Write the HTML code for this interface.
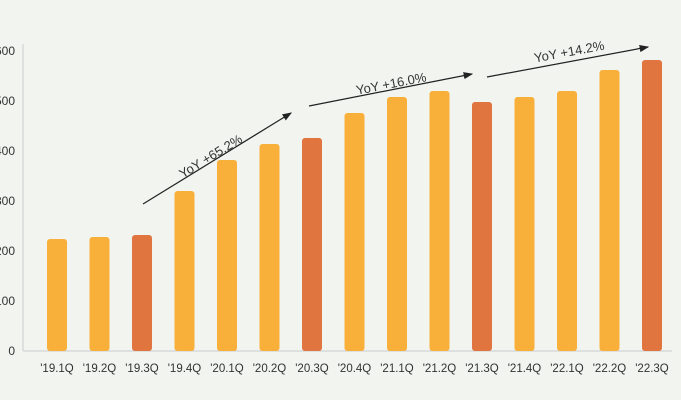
<!DOCTYPE html>
<html><head><meta charset="utf-8"><style>
html,body{margin:0;padding:0;background:#f2f4f0;}
svg{display:block;font-family:"Liberation Sans",sans-serif;}
</style></head><body>
<svg id="chart" width="681" height="400">
<defs><marker id="ah" markerWidth="8" markerHeight="8" refX="7" refY="4" orient="auto"><path d="M0,1 L8,4 L0,7 z" fill="#222"/></marker></defs>
<g id="yaxis"></g>
<g id="bars"></g>
<g id="xlabels"></g>
<g id="annot"></g>
</svg>
<script>
const categories=["'19.1Q","'19.2Q","'19.3Q","'19.4Q","'20.1Q","'20.2Q","'20.3Q","'20.4Q","'21.1Q","'21.2Q","'21.3Q","'21.4Q","'22.1Q","'22.2Q","'22.3Q"];
const values=[224,228,232,320,382,414,426,476,508,520,498,508,520,562,582];
const highlight=[false,false,true,false,false,false,true,false,false,false,true,false,false,false,true];
const yTicks=[0,100,200,300,400,500,600];
const ns="http://www.w3.org/2000/svg";
const y0=351,yScale=0.5,x0=57,step=42.5,bw=20;
const y=v=>y0-v*yScale, x=i=>x0+i*step;
function mk(t,a,p){const e=document.createElementNS(ns,t);for(const k in a)e.setAttribute(k,a[k]);p.appendChild(e);return e;}
const ya=document.getElementById('yaxis');
const al=mk('line',{x1:23,y1:44,x2:23,y2:351,stroke:'#c9cdd0','stroke-width':1},ya);

const bl=mk('line',{x1:23,y1:351,x2:672,y2:351,stroke:'#c9cdd0','stroke-width':1},ya);

yTicks.forEach(t=>{const e=mk('text',{x:15,y:y(t)+4,'text-anchor':'end','font-size':12,fill:'#333'},ya);e.textContent=t;
});
const bg=document.getElementById('bars'),xg=document.getElementById('xlabels');
values.forEach((v,i)=>{const r=mk('rect',{x:x(i)-bw/2,y:y(v),width:bw,height:y0-y(v),rx:3,fill:highlight[i]?'#e07540':'#f9b03a'},bg);

const t=mk('text',{x:x(i),y:372,'text-anchor':'middle','font-size':11.5,fill:'#333'},xg);t.textContent=categories[i];
});
const an=document.getElementById('annot');
const arrows=[[143,204,291,113,"YoY +65.2%",213,160,-31.5],[309,106,472,74,"YoY +16.0%",392,88,-11],[487,77,648,47,"YoY +14.2%",570,56,-10.5]];
arrows.forEach(a=>{const l=mk('line',{x1:a[0],y1:a[1],x2:a[2],y2:a[3],stroke:'#222','stroke-width':1.2,'marker-end':'url(#ah)'},an);

const t=mk('text',{x:a[5],y:a[6],'text-anchor':'middle','font-size':13,fill:'#333',transform:`rotate(${a[7]} ${a[5]} ${a[6]})`},an);t.textContent=a[4];
});
</script>
</body></html>
